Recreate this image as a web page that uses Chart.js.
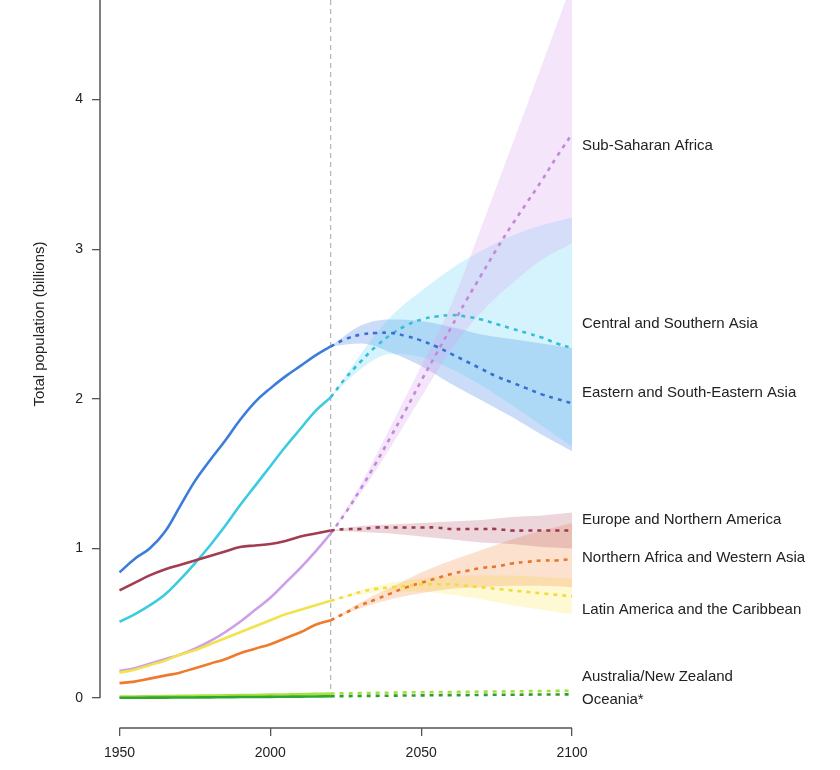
<!DOCTYPE html>
<html>
<head>
<meta charset="utf-8">
<script src="https://cdn.jsdelivr.net/npm/chart.js@4.4.1/dist/chart.umd.min.js"></script>
<style>
  html, body { margin: 0; padding: 0; background: #fff; }
  #wrap { position: relative; width: 840px; height: 770px; overflow: hidden; }
  #chart { position: absolute; left: 0; top: -70px; }
</style>
</head>
<body>
<div id="wrap"><canvas id="chart" width="840" height="840"></canvas></div>
<script>
// AXES
const xTicks = [1950, 2000, 2050, 2100];
const yTicks = [0, 1, 2, 3, 4];
const xMin = 1943.54, xMax = 2100;
const yMin = -0.2, yMax = 5;
const splitYear = 2020;

// YEARS
const histYears = [1950, 1955, 1960, 1965, 1970, 1975, 1980, 1985, 1990, 1995, 2000, 2005, 2010, 2015, 2020];
const projYears = [2020, 2025, 2030, 2035, 2040, 2045, 2050, 2055, 2060, 2065, 2070, 2075, 2080, 2085, 2090, 2095, 2100];
const bandYears = [2020, 2030, 2040, 2050, 2060, 2070, 2080, 2090, 2100];

// Total population, billions
const ssaHist = [0.18, 0.20, 0.23, 0.26, 0.29, 0.33, 0.38, 0.44, 0.51, 0.59, 0.67, 0.77, 0.87, 0.98, 1.10];
const ssaProj = [1.10, 1.24, 1.40, 1.57, 1.75, 1.93, 2.12, 2.30, 2.48, 2.66, 2.83, 3.00, 3.16, 3.31, 3.46, 3.62, 3.77];
const ssaLow  = [1.10, 1.37, 1.68, 2.01, 2.33, 2.58, 2.77, 2.93, 3.04];
const ssaHigh = [1.10, 1.43, 1.82, 2.22, 2.63, 3.15, 3.69, 4.23, 4.78];

const csAsiaHist = [0.51, 0.56, 0.62, 0.69, 0.79, 0.90, 1.02, 1.15, 1.29, 1.42, 1.55, 1.68, 1.80, 1.92, 2.01];
const csAsiaProj = [2.01, 2.14, 2.25, 2.35, 2.43, 2.49, 2.53, 2.55, 2.56, 2.55, 2.53, 2.50, 2.47, 2.44, 2.41, 2.37, 2.34];
const csAsiaLow  = [2.01, 2.20, 2.30, 2.28, 2.20, 2.09, 1.96, 1.82, 1.68];
const csAsiaHigh = [2.01, 2.30, 2.55, 2.72, 2.87, 2.99, 3.09, 3.16, 3.21];

const eAsiaHist = [0.84, 0.93, 1.00, 1.11, 1.28, 1.45, 1.59, 1.72, 1.86, 1.98, 2.07, 2.15, 2.22, 2.29, 2.35];
const eAsiaProj = [2.35, 2.40, 2.43, 2.44, 2.44, 2.42, 2.39, 2.35, 2.30, 2.25, 2.20, 2.15, 2.11, 2.07, 2.03, 2.00, 1.97];
const eAsiaLow  = [2.35, 2.37, 2.31, 2.22, 2.10, 1.99, 1.88, 1.76, 1.65];
const eAsiaHigh = [2.35, 2.49, 2.53, 2.52, 2.48, 2.43, 2.40, 2.37, 2.34];

const europeHist = [0.72, 0.77, 0.82, 0.86, 0.89, 0.92, 0.95, 0.98, 1.01, 1.02, 1.03, 1.05, 1.08, 1.10, 1.12];
const europeProj = [1.12, 1.13, 1.13, 1.14, 1.14, 1.14, 1.14, 1.14, 1.13, 1.13, 1.13, 1.13, 1.12, 1.12, 1.12, 1.12, 1.12];
const europeLow  = [1.12, 1.11, 1.10, 1.08, 1.06, 1.04, 1.03, 1.01, 1.00];
const europeHigh = [1.12, 1.15, 1.16, 1.17, 1.18, 1.19, 1.21, 1.22, 1.24];

const nafHist = [0.10, 0.11, 0.13, 0.15, 0.17, 0.20, 0.23, 0.26, 0.30, 0.33, 0.36, 0.40, 0.44, 0.49, 0.52];
const nafProj = [0.52, 0.57, 0.62, 0.66, 0.70, 0.74, 0.77, 0.80, 0.83, 0.85, 0.87, 0.88, 0.90, 0.91, 0.92, 0.92, 0.93];
const nafLow  = [0.52, 0.60, 0.66, 0.70, 0.73, 0.74, 0.75, 0.75, 0.74];
const nafHigh = [0.52, 0.64, 0.74, 0.84, 0.92, 0.99, 1.06, 1.12, 1.17];

const latamHist = [0.17, 0.19, 0.22, 0.25, 0.29, 0.32, 0.36, 0.40, 0.44, 0.48, 0.52, 0.56, 0.59, 0.62, 0.65];
const latamProj = [0.65, 0.68, 0.71, 0.73, 0.74, 0.75, 0.76, 0.76, 0.76, 0.75, 0.74, 0.73, 0.72, 0.71, 0.70, 0.69, 0.68];
const latamLow  = [0.65, 0.69, 0.71, 0.71, 0.69, 0.66, 0.62, 0.59, 0.56];
const latamHigh = [0.65, 0.72, 0.77, 0.80, 0.82, 0.82, 0.82, 0.81, 0.80];

const ausHist = [0.010, 0.011, 0.012, 0.013, 0.015, 0.016, 0.017, 0.018, 0.020, 0.021, 0.023, 0.024, 0.026, 0.028, 0.030];
const ausProj = [0.030, 0.032, 0.033, 0.035, 0.036, 0.038, 0.039, 0.040, 0.041, 0.042, 0.043, 0.044, 0.045, 0.046, 0.047, 0.048, 0.049];
const oceHist = [0.002, 0.002, 0.003, 0.003, 0.004, 0.004, 0.005, 0.006, 0.007, 0.007, 0.008, 0.009, 0.010, 0.011, 0.012];
const oceProj = [0.012, 0.013, 0.014, 0.015, 0.016, 0.017, 0.018, 0.019, 0.020, 0.020, 0.021, 0.022, 0.022, 0.023, 0.024, 0.024, 0.025];

// LABELS on the right, and the value they sit at
const labelNames = ['Sub-Saharan Africa', 'Central and Southern Asia', 'Eastern and South-Eastern Asia',
  'Europe and Northern America', 'Northern Africa and Western Asia', 'Latin America and the Caribbean',
  'Australia/New Zealand', 'Oceania*'];
const labelPos = [3.69, 2.50, 2.04, 1.19, 0.94, 0.59, 0.14, -0.01];

// REGION STYLES
const regions = [
  { hist: ssaHist, proj: ssaProj, low: ssaLow, high: ssaHigh, line: '#cc9fe8', dash: '#c488d8', band: 'rgba(215,160,240,0.28)' },
  { hist: csAsiaHist, proj: csAsiaProj, low: csAsiaLow, high: csAsiaHigh, line: '#3ccbe0', dash: '#34bfd6', band: 'rgba(100,210,245,0.27)' },
  { hist: eAsiaHist, proj: eAsiaProj, low: eAsiaLow, high: eAsiaHigh, line: '#3b7cdc', dash: '#3a6fd0', band: 'rgba(80,140,230,0.30)' },
  { hist: europeHist, proj: europeProj, low: europeLow, high: europeHigh, line: '#a23c50', dash: '#9c3a4e', band: 'rgba(170,70,95,0.22)' },
  { hist: nafHist, proj: nafProj, low: nafLow, high: nafHigh, line: '#f07a2c', dash: '#e8752a', band: 'rgba(245,140,60,0.25)' },
  { hist: latamHist, proj: latamProj, low: latamLow, high: latamHigh, line: '#f2e24c', dash: '#f0dc3a', band: 'rgba(250,230,80,0.25)' },
  { hist: ausHist, proj: ausProj, line: '#a8e23e', dash: '#a2e03a' },
  { hist: oceHist, proj: oceProj, line: '#2ea82e', dash: '#2a9e2e' }
];

function pts(xs, ys) {
  return xs.map((x, i) => ({ x: x, y: ys[i] }));
}

const datasets = [];
// vertical dashed line at the start of projections
datasets.push({
  data: [{ x: splitYear, y: 0 }, { x: splitYear, y: yMax }],
  borderColor: '#b4b4b4', borderWidth: 1.2, borderDash: [5, 4], pointRadius: 0, order: 20
});

regions.forEach(r => {
  if (r.low) {
    datasets.push({
      data: pts(bandYears, r.low), borderWidth: 0, pointRadius: 0, fill: false,
      cubicInterpolationMode: 'monotone', order: 10
    });
    datasets.push({
      data: pts(bandYears, r.high), borderWidth: 0, pointRadius: 0, fill: '-1',
      backgroundColor: r.band, cubicInterpolationMode: 'monotone', order: 10
    });
  }
});

regions.slice().reverse().forEach(r => {
  datasets.push({
    data: pts(histYears, r.hist), borderColor: r.line, borderWidth: 2.6, pointRadius: 0,
    tension: 0.4, order: 1
  });
  datasets.push({
    data: pts(projYears, r.proj), borderColor: r.dash, borderWidth: 2.6, pointRadius: 0,
    borderDash: [4, 5], borderCapStyle: 'butt', tension: 0.4, order: 1
  });
});

// axis lines, right-hand labels and the y title
const decorations = {
  id: 'decorations',
  afterDraw(chart) {
    const ctx = chart.ctx;
    const xs = chart.scales.x, ys = chart.scales.y;
    ctx.save();
    ctx.strokeStyle = '#555';
    ctx.lineWidth = 1.5;
    ctx.beginPath();
    ctx.moveTo(xs.left, ys.getPixelForValue(yTicks[0]));
    ctx.lineTo(xs.left, ys.getPixelForValue(yMax));
    ctx.moveTo(xs.getPixelForValue(xTicks[0]), ys.bottom);
    ctx.lineTo(xs.getPixelForValue(xTicks[xTicks.length - 1]), ys.bottom);
    ctx.stroke();

    ctx.fillStyle = '#222';
    ctx.font = '15px "Liberation Sans", Arial, sans-serif';
    ctx.textBaseline = 'middle';
    ctx.textAlign = 'left';
    const lx = xs.getPixelForValue(xMax) + 10;
    labelNames.forEach((n, i) => ctx.fillText(n, lx, ys.getPixelForValue(labelPos[i])));

    ctx.translate(40, (ys.getPixelForValue(0) + ys.getPixelForValue(yMax)) / 2);
    ctx.rotate(-Math.PI / 2);
    ctx.textAlign = 'center';
    ctx.fillText('Total population (billions)', 0, 0);
    ctx.restore();
  }
};

Chart.defaults.font.family = '"Liberation Sans", Arial, sans-serif';
Chart.defaults.font.size = 14;
Chart.defaults.color = '#222';

new Chart(document.getElementById('chart'), {
  type: 'line',
  data: { datasets: datasets },
  options: {
    responsive: false,
    animation: false,
    events: [],
    layout: { padding: { top: 20, right: 268, left: 0, bottom: 0 } },
    plugins: { legend: { display: false }, tooltip: { enabled: false } },
    scales: {
      x: {
        type: 'linear', min: xMin, max: xMax,
        afterFit: s => { s.height = 42; },
        afterBuildTicks: s => { s.ticks = xTicks.map(v => ({ value: v })); },
        grid: { drawOnChartArea: false, drawTicks: true, tickLength: 8, color: '#555', lineWidth: 1.3 },
        border: { display: false },
        ticks: { padding: 9, maxRotation: 0, callback: v => String(v) }
      },
      y: {
        type: 'linear', min: yMin, max: yMax,
        afterFit: s => { s.width = 100; },
        afterBuildTicks: s => { s.ticks = yTicks.map(v => ({ value: v })); },
        grid: { drawOnChartArea: false, drawTicks: true, tickLength: 8, color: '#555', lineWidth: 1.3 },
        border: { display: false },
        ticks: { padding: 9, callback: v => String(v) }
      }
    }
  },
  plugins: [decorations]
});
</script>
</body>
</html>
